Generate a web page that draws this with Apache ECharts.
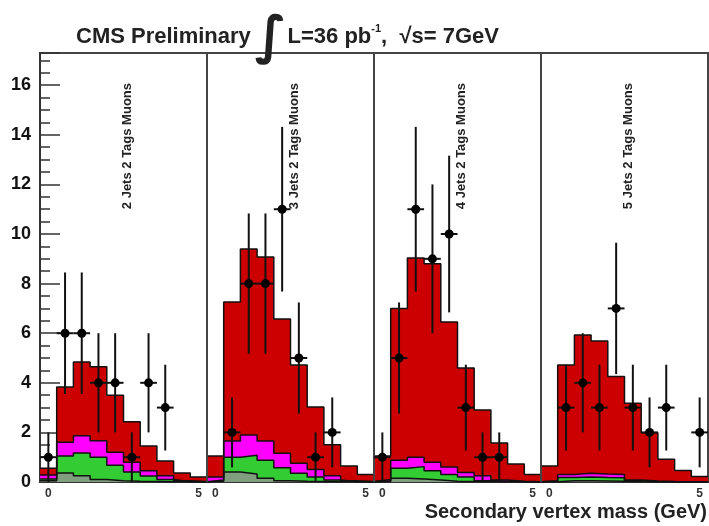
<!DOCTYPE html>
<html style="height: 100%">
    <head>
        <meta charset="utf-8">
    </head>
    <body style="height: 100%; margin: 0; background: #fff">
        <div id="container" style="height: 100%"></div>
        <script type="text/javascript" src="https://cdn.jsdelivr.net/npm/echarts@6/dist/echarts.min.js"></script>
        <script type="text/javascript">
// 4 panels x 10 bins, bin index 0..39 on the x axis
var panelNames = ['2 Jets 2 Tags Muons', '3 Jets 2 Tags Muons', '4 Jets 2 Tags Muons', '5 Jets 2 Tags Muons'];
var yTicks = [0, 2, 4, 6, 8, 10, 12, 14, 16];

// top of each stacked contribution (read as cumulative height)
var redTop = [0.55,3.83,4.84,4.65,3.5,2.43,1.45,0.85,0.36,0.2,
              1.05,7.26,9.4,9.07,6.57,4.72,3.02,1.5,0.65,0.3,
              1.05,7.0,9.03,8.8,6.45,4.6,2.9,1.57,0.73,0.3,
              0.65,4.72,5.93,5.69,4.25,3.18,1.99,0.92,0.46,0.22];
var magentaTop = [0.28,1.6,1.87,1.66,1.2,0.8,0.45,0.25,0.05,0.02,
                  0.2,1.65,1.9,1.65,1.16,0.76,0.5,0.25,0.05,0.02,
                  0.1,0.88,1.0,0.8,0.6,0.38,0.25,0.08,0.03,0.01,
                  0.05,0.3,0.35,0.32,0.3,0.08,0.04,0.02,0.01,0.01];
var greenTop = [0.12,1.05,1.17,1.0,0.68,0.4,0.24,0.1,0.02,0.01,
                0.08,1.0,1.08,0.88,0.57,0.35,0.2,0.08,0.02,0.01,
                0.05,0.55,0.62,0.45,0.3,0.2,0.05,0.03,0.01,0.01,
                0.03,0.18,0.2,0.18,0.17,0.05,0.02,0.01,0,0];
var grayTop = [0.05,0.36,0.25,0.1,0.05,0.03,0.02,0.01,0,0,
               0.03,0.4,0.32,0.15,0.05,0.03,0.02,0.01,0,0,
               0.02,0.15,0.12,0.08,0.03,0.02,0.01,0,0,0,
               0.01,0.05,0.05,0.04,0.03,0.01,0,0,0,0];

// data points: bin, value, error
var dataBin = [0,1,2,3,4,5,6,7, 11,12,13,14,15,16,17, 20,21,22,23,24,25,26,27, 31,32,33,34,35,36,37,39];
var dataVal = [1,6,6,4,4,1,4,3, 2,8,8,11,5,1,2, 1,5,11,9,10,3,1,1, 3,4,3,7,3,2,3,2];
var dataErr = [1,2.45,2.45,2,2,1,2,1.73, 1.41,2.83,2.83,3.32,2.24,1,1.41,
               1,2.24,3.32,3,3.16,1.73,1,1, 1.73,2,1.73,2.65,1.73,1.41,1.73,1.41];

var dom = document.getElementById('container');
var myChart = echarts.init(dom);

function histo(tops) {
    var pts = tops.map(function (v, i) { return [i, v]; });
    pts.push([tops.length, tops[tops.length - 1]]);
    return pts;
}

function histSeries(name, tops, color, extra) {
    var s = {
        name: name,
        type: 'line',
        step: 'end',
        symbol: 'none',
        data: histo(tops),
        lineStyle: { color: '#111', width: 1.5 },
        areaStyle: { color: color, opacity: 1 },
        silent: true
    };
    return Object.assign(s, extra || {});
}

var points = dataBin.map(function (b, i) { return [b + 0.5, dataVal[i], dataErr[i]]; });

var graphics = panelNames.map(function (t, i) {
    return {
        type: 'text',
        x: 127 + i * 167,
        y: 83,
        rotation: Math.PI / 2,
        style: {
            text: t,
            fontSize: 13,
            fontWeight: 'bold',
            fontFamily: 'Liberation Sans',
            fill: '#222',
            align: 'right',
            verticalAlign: 'middle'
        }
    };
});
graphics.push({
    type: 'text',
    right: 2,
    top: 502,
    style: {
        text: 'Secondary vertex mass (GeV)',
        fontSize: 20,
        fontWeight: 'bold',
        fontFamily: 'Liberation Sans',
        fill: '#222'
    }
});

var option = {
    animation: false,
    title: {
        left: 71,
        top: 4,
        text: '{a|CMS Preliminary}{i|∫}{a|L=36 pb}{s|-1}{a|,  √s= 7GeV}',
        textStyle: {
            rich: {
                a: { fontSize: 22, fontWeight: 'bold', fontFamily: 'Liberation Sans', color: '#222', lineHeight: 56, verticalAlign: 'middle' },
                i: { fontSize: 52, fontFamily: 'DejaVu Sans', color: '#222', lineHeight: 56, verticalAlign: 'middle', padding: [4, 1, 0, 4] },
                s: { fontSize: 11, fontWeight: 'bold', fontFamily: 'Liberation Sans', color: '#222', verticalAlign: 'top', padding: [14, 0, 0, 0] }
            }
        }
    },
    grid: {
        left: 40,
        right: 1,
        top: 53,
        bottom: 44,
        show: true,
        borderColor: '#444',
        borderWidth: 2,
        outerBoundsMode: 'none'
    },
    xAxis: {
        type: 'value',
        min: 0,
        max: 40,
        interval: 0.5,
        splitLine: { show: false },
        axisTick: { show: false },
        axisLine: { lineStyle: { color: '#333', width: 2 } },
        axisLabel: {
            margin: 6,
            fontSize: 12,
            fontWeight: 'bold',
            fontFamily: 'Liberation Sans',
            color: '#333',
            formatter: function (v) {
                var m = v % 10;
                if (m === 0.5) return '0';
                if (m === 9.5) return '5';
                return '';
            }
        }
    },
    yAxis: {
        type: 'value',
        min: 0,
        max: 17.3,
        interval: 2,
        splitLine: { show: false },
        axisLine: { show: true, lineStyle: { color: '#333', width: 2 } },
        axisTick: { inside: true, length: 20, lineStyle: { color: '#333', width: 1.5 } },
        minorTick: { show: true, splitNumber: 4, length: 10, lineStyle: { color: '#333', width: 1.5 } },
        axisLabel: {
            margin: 9,
            fontSize: 18,
            fontWeight: 'bold',
            fontFamily: 'Liberation Sans',
            color: '#111',
            formatter: function (v) { return yTicks.indexOf(v) >= 0 ? String(v) : ''; }
        }
    },
    graphic: graphics,
    series: [
        histSeries('red', redTop, '#cc0000', {
            markLine: {
                silent: true,
                symbol: ['none', 'none'],
                label: { show: false },
                lineStyle: { color: '#444', width: 2, type: 'solid' },
                data: [{ xAxis: 10 }, { xAxis: 20 }, { xAxis: 30 }]
            }
        }),
        histSeries('magenta', magentaTop, '#ff00ff'),
        histSeries('green', greenTop, '#33cc33'),
        histSeries('gray', grayTop, '#7f9f7f'),
        {
            name: 'data',
            type: 'custom',
            data: points,
            z: 10,
            renderItem: function (params, api) {
                var x = api.value(0), y = api.value(1), e = api.value(2);
                var top = api.coord([x, y + e]);
                var bot = api.coord([x, Math.max(0, y - e)]);
                var l = api.coord([x - 0.5, y]);
                var r = api.coord([x + 0.5, y]);
                var c = api.coord([x, y]);
                var st = { stroke: '#111', lineWidth: 2 };
                return {
                    type: 'group',
                    children: [
                        { type: 'line', shape: { x1: top[0], y1: top[1], x2: bot[0], y2: bot[1] }, style: st },
                        { type: 'line', shape: { x1: l[0], y1: l[1], x2: r[0], y2: r[1] }, style: st },
                        { type: 'circle', shape: { cx: c[0], cy: c[1], r: 4.5 }, style: { fill: '#000' } }
                    ]
                };
            }
        }
    ]
};

if (option && typeof option === 'object') {
    myChart.setOption(option);
}
        </script>
    </body>
</html>
